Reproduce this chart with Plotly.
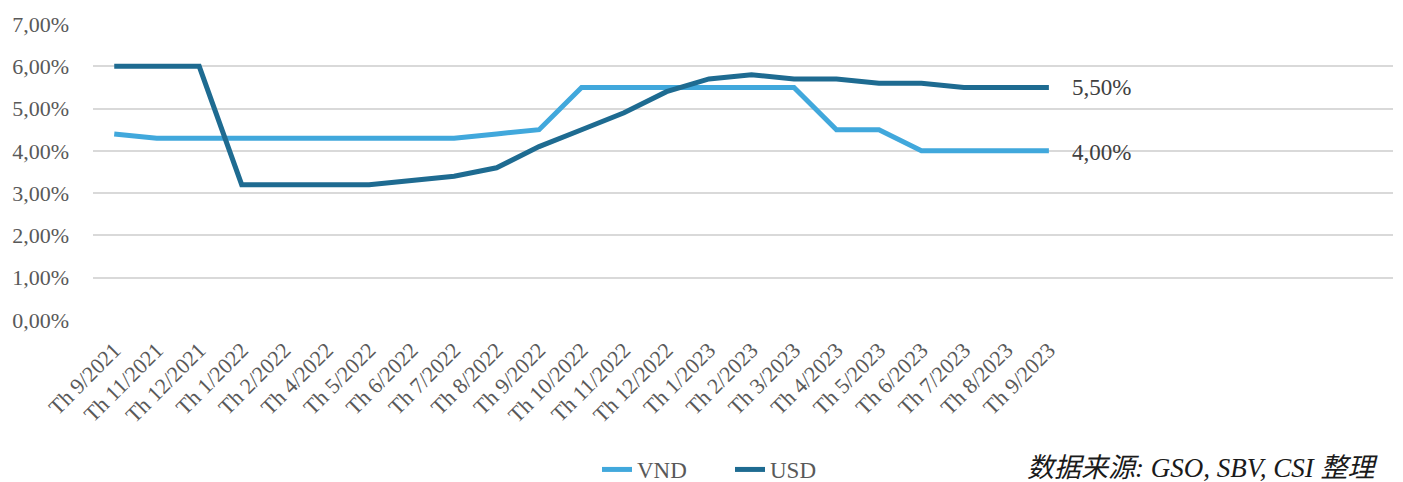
import plotly.graph_objects as go

categories = ["Th 9/2021", "Th 11/2021", "Th 12/2021", "Th 1/2022", "Th 2/2022", "Th 4/2022",
              "Th 5/2022", "Th 6/2022", "Th 7/2022", "Th 8/2022", "Th 9/2022", "Th 10/2022",
              "Th 11/2022", "Th 12/2022", "Th 1/2023", "Th 2/2023", "Th 3/2023", "Th 4/2023",
              "Th 5/2023", "Th 6/2023", "Th 7/2023", "Th 8/2023", "Th 9/2023"]
vnd = [4.4, 4.3, 4.3, 4.3, 4.3, 4.3, 4.3, 4.3, 4.3, 4.4, 4.5, 5.5, 5.5, 5.5, 5.5, 5.5, 5.5,
       4.5, 4.5, 4.0, 4.0, 4.0, 4.0]
usd = [6.0, 6.0, 6.0, 3.2, 3.2, 3.2, 3.2, 3.3, 3.4, 3.6, 4.1, 4.5, 4.9, 5.4, 5.7, 5.8, 5.7,
       5.7, 5.6, 5.6, 5.5, 5.5, 5.5]
y_ticks = [0, 1, 2, 3, 4, 5, 6, 7]
y_labels = ["0,00%", "1,00%", "2,00%", "3,00%", "4,00%", "5,00%", "6,00%", "7,00%"]

x = list(range(len(categories)))
serif = "Times New Roman, Liberation Serif, DejaVu Serif, serif"
grey = "#595959"

fig = go.Figure()
fig.add_trace(go.Scatter(x=x, y=vnd, name="VND", mode="lines",
                         line=dict(color="#41a8dc", width=5)))
fig.add_trace(go.Scatter(x=x, y=usd, name="USD", mode="lines",
                         line=dict(color="#1e6b91", width=5)))

fig.add_annotation(x=x[-1], y=usd[-1], text="5,50%", showarrow=False, xanchor="left",
                   xshift=21, font=dict(family=serif, size=23, color="#404040"))
fig.add_annotation(x=x[-1], y=vnd[-1], text="4,00%", showarrow=False, xanchor="left",
                   xshift=21, yshift=-2, font=dict(family=serif, size=23, color="#404040"))
fig.add_annotation(xref="paper", yref="paper", x=0.717, y=-0.5, xanchor="left", yanchor="middle",
                   text="<i>数据来源: GSO, SBV, CSI 整理</i>", showarrow=False,
                   font=dict(family="Times New Roman, Liberation Serif, Noto Sans CJK SC, serif",
                             size=27, color="#1a1a1a"))

fig.update_layout(
    width=1403, height=482,
    font=dict(family=serif, color=grey),
    margin=dict(l=93, r=10, t=24, b=162, autoexpand=False),
    plot_bgcolor="white", paper_bgcolor="white",
    showlegend=True,
    legend=dict(orientation="h", x=0.49, xanchor="center", y=-0.505, yanchor="middle",
                font=dict(family=serif, size=23, color=grey), entrywidth=88),
    xaxis=dict(range=[-0.5, 30.1], tickvals=x, ticktext=categories, tickangle=-45,
               showgrid=False, zeroline=False, showline=False, ticks="", automargin=False,
               ticklabelstandoff=12,
               tickfont=dict(family=serif, size=22, color=grey)),
    yaxis=dict(range=[0, 7], tickvals=y_ticks, ticktext=y_labels, showgrid=True,
               gridcolor="#d9d9d9", gridwidth=1.5, zeroline=False, showline=False, automargin=False,
               ticks="", ticklabelstandoff=23, tickfont=dict(family=serif, size=22, color=grey)),
)

fig.write_html("out.html", config={"displayModeBar": False})
with open("out.html", encoding="utf-8") as f:
    html = f.read()
html = html.replace("<body>", '<body style="margin:0;padding:0;overflow:hidden">', 1)
with open("out.html", "w", encoding="utf-8") as f:
    f.write(html)
